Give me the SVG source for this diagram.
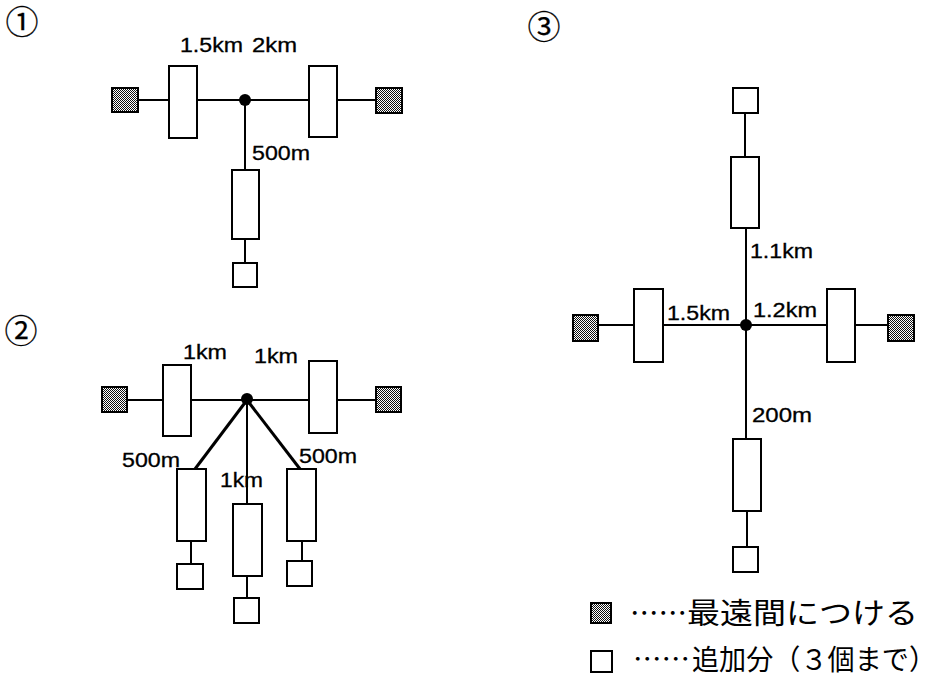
<svg xmlns="http://www.w3.org/2000/svg" width="943" height="681" viewBox="0 0 943 681">
<defs>
<pattern id="hatch" width="2" height="2" patternUnits="userSpaceOnUse">
<rect width="2" height="2" fill="#fff"/>
<rect x="0" y="0" width="1" height="1" fill="#111"/>
<rect x="1" y="1" width="1" height="1" fill="#111"/>
</pattern>
<style>
.box{fill:#fff;stroke:#000;stroke-width:2}
.shade{fill:url(#hatch);stroke:#000;stroke-width:2}
.ln{stroke:#000;stroke-width:2;fill:none}
.thick{stroke:#000;stroke-width:3;fill:none}
.dot{fill:#000}
.lbl{font-family:"Liberation Sans",Arial,sans-serif;font-size:20px;fill:#000;stroke:#000;stroke-width:0.3}
.num{font-family:"Noto Sans CJK JP","Noto Sans",sans-serif;font-size:33px;fill:#000;stroke:#000;stroke-width:0.25}
.jp{font-family:"Noto Sans CJK JP",sans-serif;font-size:29px;fill:#000}
.jp2{font-family:"Noto Sans CJK JP",sans-serif;font-size:28px;fill:#000}
</style>
</defs>
<rect width="943" height="681" fill="#fff"/>

<g id="connectors">
<!-- diagram 1 -->
<line class="ln" x1="138" y1="100" x2="169" y2="100"/>
<line class="ln" x1="197" y1="100" x2="309" y2="100"/>
<line class="ln" x1="337" y1="100" x2="376" y2="100"/>
<line class="ln" x1="245" y1="100" x2="245" y2="170"/>
<line class="ln" x1="245" y1="239" x2="245" y2="263"/>
<!-- diagram 2 -->
<line class="ln" x1="127" y1="400" x2="163" y2="400"/>
<line class="ln" x1="191" y1="400" x2="309" y2="400"/>
<line class="ln" x1="337" y1="400" x2="376" y2="400"/>
<line class="thick" x1="247" y1="400" x2="195" y2="469"/>
<line class="thick" x1="247" y1="400" x2="300" y2="469"/>
<line class="ln" x1="247" y1="400" x2="247" y2="504"/>
<line class="ln" x1="191" y1="541" x2="191" y2="564"/>
<line class="ln" x1="247" y1="576" x2="247" y2="598"/>
<line class="ln" x1="302" y1="541" x2="302" y2="561"/>
<!-- diagram 3 -->
<line class="ln" x1="745" y1="113" x2="745" y2="157"/>
<line class="ln" x1="746" y1="228" x2="746" y2="439"/>
<line class="ln" x1="598" y1="325" x2="634" y2="325"/>
<line class="ln" x1="663" y1="325" x2="827" y2="325"/>
<line class="ln" x1="855" y1="325" x2="888" y2="325"/>
<line class="ln" x1="747" y1="511" x2="747" y2="547"/>
</g>

<!-- diagram 1 -->
<g id="label1"><text class="num" x="22" y="34" text-anchor="middle">①</text></g>
<g id="d1-shade-left"><rect class="shade" x="112" y="88" width="26" height="24"/></g>
<g id="d1-box-left"><rect class="box" x="169" y="66" width="28" height="72"/></g>
<g id="d1-junction"><circle class="dot" cx="245" cy="100" r="6"/></g>
<g id="d1-box-right"><rect class="box" x="309" y="66" width="28" height="71"/></g>
<g id="d1-shade-right"><rect class="shade" x="376" y="88" width="26" height="25"/></g>
<g id="d1-box-bottom"><rect class="box" x="232" y="170" width="27" height="69"/></g>
<g id="d1-sq-bottom"><rect class="box" x="233" y="263" width="24" height="24"/></g>
<g id="d1-labels">
<text class="lbl" x="180" y="52" textLength="63" lengthAdjust="spacingAndGlyphs">1.5km</text>
<text class="lbl" x="252" y="52" textLength="45" lengthAdjust="spacingAndGlyphs">2km</text>
<text class="lbl" x="252" y="160" textLength="58" lengthAdjust="spacingAndGlyphs">500m</text>
</g>

<!-- diagram 2 -->
<g id="label2"><text class="num" x="21" y="343" text-anchor="middle">②</text></g>
<g id="d2-shade-left"><rect class="shade" x="102" y="387" width="25" height="25"/></g>
<g id="d2-box-left"><rect class="box" x="163" y="365" width="28" height="71"/></g>
<g id="d2-junction"><circle class="dot" cx="247" cy="399" r="6"/></g>
<g id="d2-box-right"><rect class="box" x="309" y="361" width="28" height="72"/></g>
<g id="d2-shade-right"><rect class="shade" x="376" y="387" width="25" height="25"/></g>
<g id="d2-box-a"><rect class="box" x="177" y="469" width="29" height="72"/></g>
<g id="d2-sq-a"><rect class="box" x="177" y="564" width="26" height="25"/></g>
<g id="d2-box-b"><rect class="box" x="233" y="504" width="29" height="72"/></g>
<g id="d2-sq-b"><rect class="box" x="234" y="598" width="25" height="25"/></g>
<g id="d2-box-c"><rect class="box" x="287" y="469" width="29" height="72"/></g>
<g id="d2-sq-c"><rect class="box" x="287" y="561" width="25" height="25"/></g>
<g id="d2-labels">
<text class="lbl" x="183" y="359" textLength="44" lengthAdjust="spacingAndGlyphs">1km</text>
<text class="lbl" x="254" y="363" textLength="44" lengthAdjust="spacingAndGlyphs">1km</text>
<text class="lbl" x="122" y="467" textLength="58" lengthAdjust="spacingAndGlyphs">500m</text>
<text class="lbl" x="299" y="463" textLength="58" lengthAdjust="spacingAndGlyphs">500m</text>
<text class="lbl" x="220" y="487" textLength="43" lengthAdjust="spacingAndGlyphs">1km</text>
</g>

<!-- diagram 3 -->
<g id="label3"><text class="num" x="544" y="39" text-anchor="middle">③</text></g>
<g id="d3-sq-top"><rect class="box" x="733" y="88" width="25" height="25"/></g>
<g id="d3-box-top"><rect class="box" x="731" y="157" width="28" height="71"/></g>
<g id="d3-junction"><circle class="dot" cx="746" cy="325" r="6"/></g>
<g id="d3-shade-left"><rect class="shade" x="573" y="315" width="25" height="26"/></g>
<g id="d3-box-left"><rect class="box" x="634" y="289" width="29" height="73"/></g>
<g id="d3-box-right"><rect class="box" x="827" y="289" width="28" height="73"/></g>
<g id="d3-shade-right"><rect class="shade" x="888" y="315" width="26" height="26"/></g>
<g id="d3-box-bottom"><rect class="box" x="733" y="439" width="28" height="72"/></g>
<g id="d3-sq-bottom"><rect class="box" x="733" y="547" width="25" height="25"/></g>
<g id="d3-labels">
<text class="lbl" x="750" y="258" textLength="63" lengthAdjust="spacingAndGlyphs">1.1km</text>
<text class="lbl" x="667" y="320" textLength="63" lengthAdjust="spacingAndGlyphs">1.5km</text>
<text class="lbl" x="753" y="317" textLength="64" lengthAdjust="spacingAndGlyphs">1.2km</text>
<text class="lbl" x="752" y="422" textLength="60" lengthAdjust="spacingAndGlyphs">200m</text>
</g>

<!-- legend -->
<g id="legend-shaded">
<rect class="shade" x="591" y="603" width="20" height="20"/>
<text class="jp" x="630" y="624" textLength="57" lengthAdjust="spacingAndGlyphs">……</text>
<text class="jp" x="687" y="624" textLength="231" lengthAdjust="spacingAndGlyphs">最遠間につける</text>
</g>
<g id="legend-plain">
<rect class="box" x="591" y="651" width="21" height="21"/>
<text class="jp2" x="633" y="670" textLength="57" lengthAdjust="spacingAndGlyphs">……</text>
<text class="jp2" x="692" y="670" textLength="244" lengthAdjust="spacingAndGlyphs">追加分（３個まで）</text>
</g>
</svg>
